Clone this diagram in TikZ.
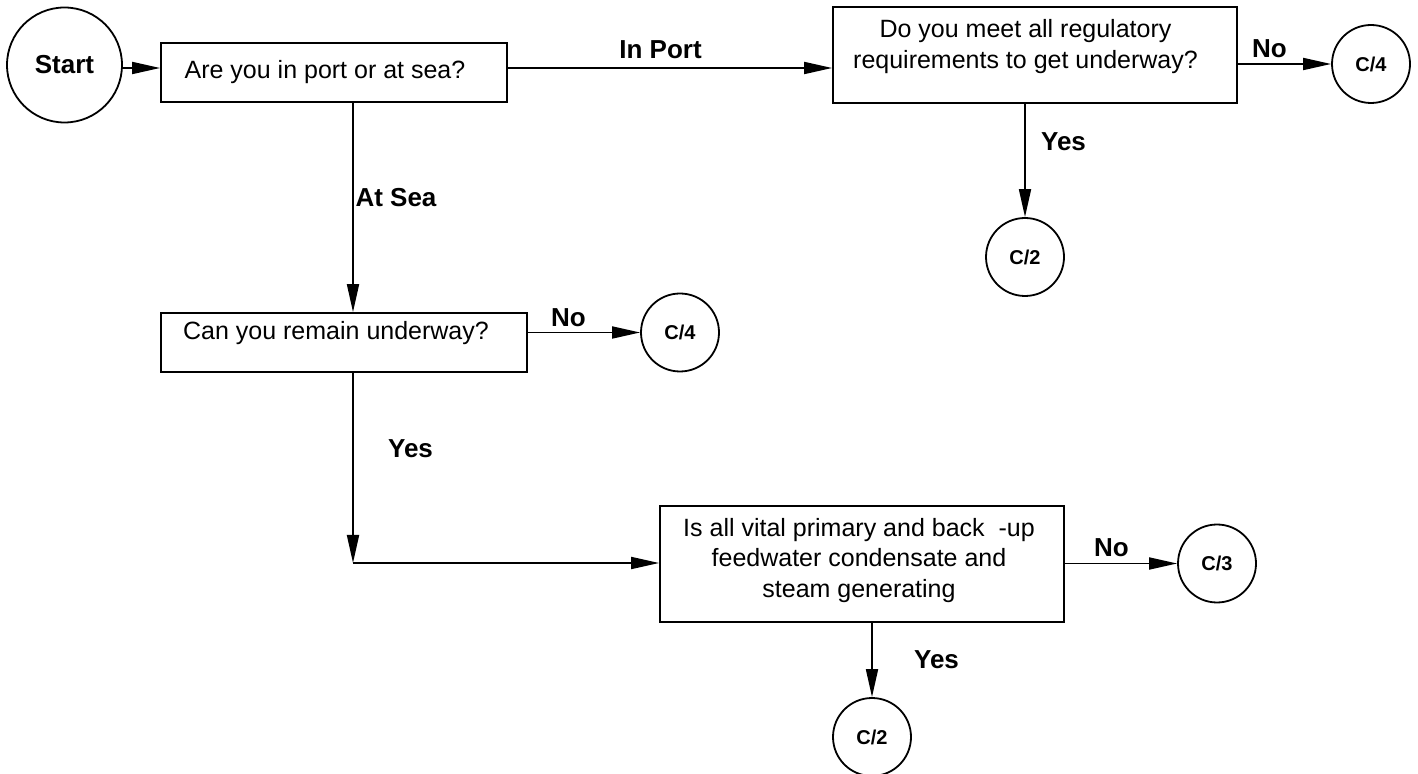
\documentclass[tikz,border=0pt]{standalone}
\usepackage{fontspec}
\setmainfont{Liberation Sans}
\usetikzlibrary{arrows.meta}

\tikzset{
  every picture/.style={x=0.5pt,y=-0.5pt},
  qbox/.style={draw,line width=0.9pt,rectangle,inner sep=0pt},
  qtext/.style={inner sep=0pt,align=center,font=\fontsize{12.5}{15.5}\selectfont},
  conn/.style={draw,line width=0.9pt,circle,inner sep=0pt,minimum size=39pt,
               font=\fontsize{10}{12}\selectfont\bfseries},
  lbl/.style={inner sep=0pt,font=\fontsize{13}{15}\selectfont\bfseries},
  arr/.style={line width=0.9pt,-{Triangle[length=14pt,width=6pt]}},
  wire/.style={line width=0.9pt}
}

\begin{document}
\begin{tikzpicture}
\useasboundingbox (0,0) rectangle (1418,774);

% start terminal
\node[conn,minimum size=57.5pt,font=\fontsize{13}{15}\selectfont\bfseries] (start) at (64.5,65) {Start};

% decision boxes
\node[qbox,minimum width=173pt,minimum height=29.5pt] (q1) at (334,72.5) {};
\node[qtext] (q1t) at (325,72) {Are you in port or at sea?};

\node[qbox,minimum width=202pt,minimum height=48pt] (q2) at (1035,55) {};
\node[qtext] (q2t) at (1025.5,46.5) {Do you meet all regulatory\\requirements to get underway?};

\node[qbox,minimum width=183pt,minimum height=29.5pt] (q3) at (344,342.5) {};
\node[qtext] (q3t) at (336,333) {Can you remain underway?};

\node[qbox,minimum width=202pt,minimum height=58pt] (q4) at (862,564) {};
\node[qtext,font=\fontsize{12.5}{15.25}\selectfont] (q4t) at (859,560.5)
  {Is all vital primary and back~ -up\\feedwater condensate and\\steam generating};

% off-page connectors
\node[conn] (c4a) at (1371,64) {C/4};
\node[conn] (c2a) at (1025,257) {C/2};
\node[conn] (c4b) at (680,332.5) {C/4};
\node[conn] (c3)  at (1217,563.5) {C/3};
\node[conn] (c2b) at (872,737) {C/2};

% routing helpers
\coordinate (r1) at (0,68);
\coordinate (colA) at (353,0);
\coordinate (bend) at (353,563);

% connectors
\draw[arr] (start.east |- r1) -- (q1.west |- r1);
\draw[arr] (q1.east |- r1) -- (q2.west |- r1);
\draw[arr] (q2.east |- c4a) -- (c4a.west);
\draw[arr] (q2.south -| c2a) -- (c2a.north);
\draw[arr] (q1.south -| colA) -- (q3.north -| colA);
\draw[arr] (q3.east |- c4b) -- (c4b.west);
\draw[arr] (q3.south -| colA) -- (bend);
\draw[arr] (bend) -- (q4.west |- bend);
\draw[arr] (q4.east |- c3) -- (c3.west);
\draw[arr] (q4.south -| c2b) -- (c2b.north);

% branch labels
\node[lbl] (lInPort) at (660.5,50) {In Port};
\node[lbl] (lNo1) at (1269.5,49) {No};
\node[lbl] (lYes1) at (1063.5,142) {Yes};
\node[lbl] (lAtSea) at (396,198) {At Sea};
\node[lbl] (lNo2) at (568.5,318) {No};
\node[lbl] (lYes2) at (410.5,449) {Yes};
\node[lbl] (lNo3) at (1111.5,548) {No};
\node[lbl] (lYes3) at (936.5,660) {Yes};
\end{tikzpicture}
\end{document}
